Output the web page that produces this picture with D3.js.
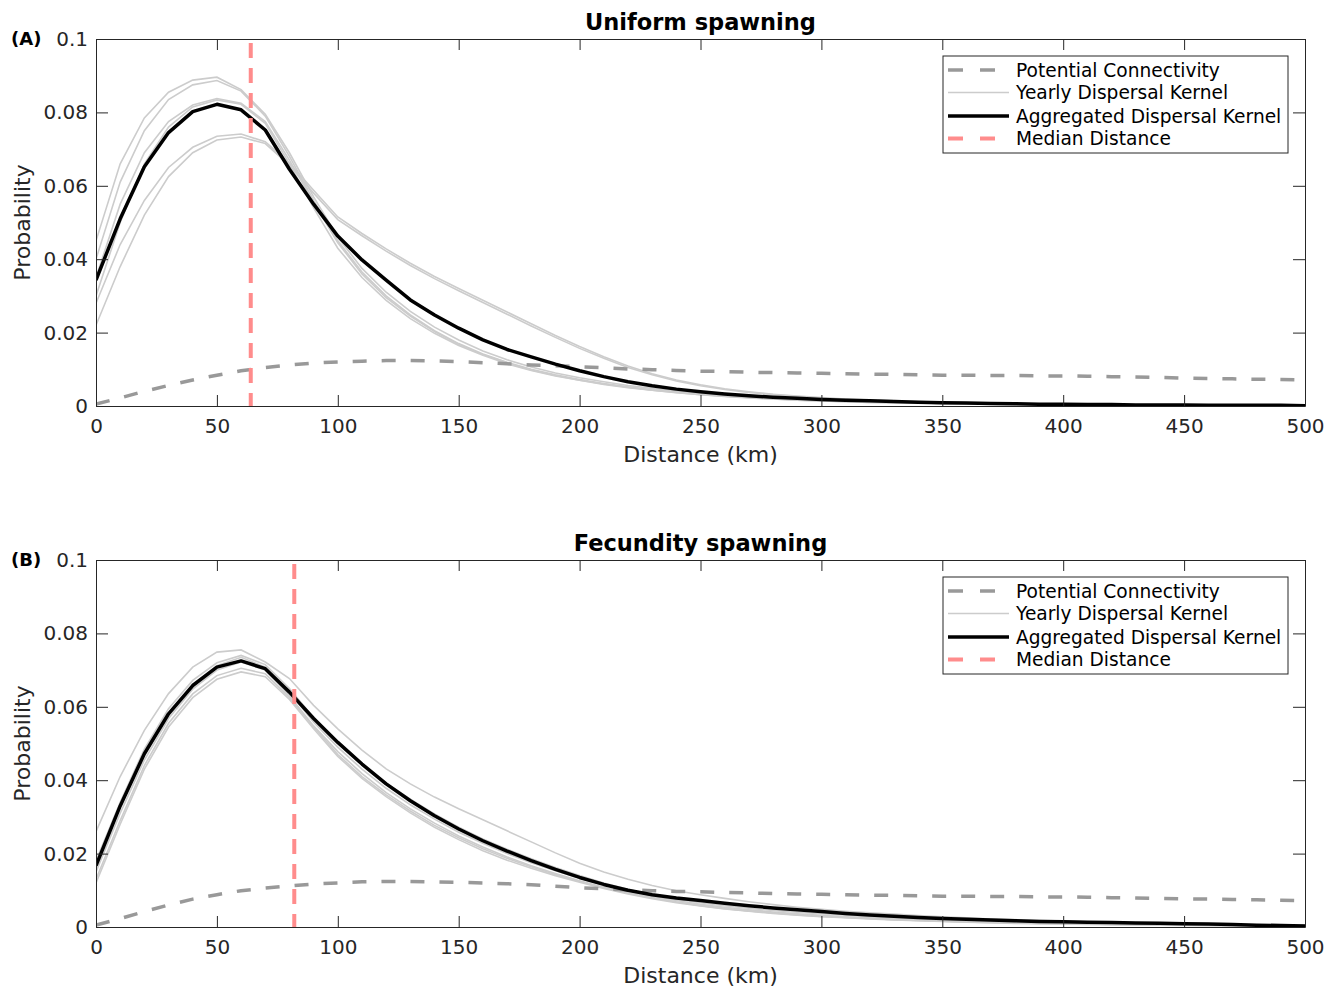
<html>
<head>
  <title>Dispersal kernels</title>
  <script src='https://d3js.org/d3.v7.min.js'></script>
</head>
<style type="text/css">
body { margin: 0; background: #fff; }
text { font-family: "DejaVu Sans", sans-serif; fill: #262626; }
.tick-label { font-size: 20px; }
.axis-label { font-size: 22px; }
.title { font-size: 22.5px; font-weight: bold; fill: #000; }
.panel-tag { font-size: 18px; font-weight: bold; fill: #000; }
.legend-text { font-size: 18.6px; fill: #000; }
</style>
<body>
<script>

// distances (km), sampled every 10 km
var distances = d3.range(0, 501, 10);

var xTicks = [0, 50, 100, 150, 200, 250, 300, 350, 400, 450, 500];
var yTicks = [0, 0.02, 0.04, 0.06, 0.08, 0.1];
var yTickLabels = ["0", "0.02", "0.04", "0.06", "0.08", "0.1"];

var legendLabels = ["Potential Connectivity", "Yearly Dispersal Kernel", "Aggregated Dispersal Kernel", "Median Distance"];

// ---- (A) uniform spawning ----
var uniformYearly = [
  [.045,.066,.0785,.0855,.0888,.0896,.0862,.0795,.0690,.0570,.0460,.0375,.0310,.0258,.0215,.0180,.0150,.0126,.0106,.0090,.0077,.0066,.0056,.0048,.0041,.0035,.0030,.0026,.0022,.0019,.0016,.0014,.0012,.0010,.0009,.0008,.0007,.0006,.0005,.0005,.0004,.0004,.0003,.0003,.0003,.0002,.0002,.0002,.0002,.0001,.0001],
  [.040,.061,.075,.0835,.0875,.0887,.0858,.0790,.0680,.0560,.0450,.0365,.0300,.0248,.0205,.0170,.0142,.0119,.0100,.0085,.0072,.0061,.0052,.0044,.0038,.0032,.0027,.0023,.0020,.0017,.0015,.0013,.0011,.0009,.0008,.0007,.0006,.0005,.0005,.0004,.0004,.0003,.0003,.0003,.0002,.0002,.0002,.0002,.0001,.0001,.0001],
  [.035,.055,.069,.0775,.0820,.0838,.0825,.0775,.0670,.0555,.0445,.0360,.0295,.0245,.0203,.0168,.0140,.0117,.0098,.0083,.0070,.0060,.0051,.0043,.0037,.0031,.0027,.0023,.0019,.0016,.0014,.0012,.0010,.0009,.0008,.0007,.0006,.0005,.0004,.0004,.0003,.0003,.0003,.0002,.0002,.0002,.0002,.0001,.0001,.0001,.0001],
  [.030,.050,.066,.0760,.0815,.0834,.0822,.0770,.0660,.0540,.0430,.0350,.0288,.0238,.0198,.0165,.0138,.0115,.0097,.0082,.0070,.0059,.0050,.0043,.0036,.0031,.0026,.0022,.0019,.0016,.0014,.0012,.0010,.0009,.0008,.0007,.0006,.0005,.0004,.0004,.0003,.0003,.0003,.0002,.0002,.0002,.0002,.0001,.0001,.0001,.0001],
  [.028,.044,.056,.0650,.0705,.0735,.0741,.0720,.0662,.0588,.0515,.0470,.0428,.0389,.0353,.0320,.0288,.0256,.0224,.0192,.0162,.0134,.0109,.0088,.0071,.0058,.0047,.0039,.0032,.0027,.0023,.0019,.0016,.0014,.0012,.0010,.0009,.0008,.0007,.0006,.0005,.0004,.0004,.0003,.0003,.0002,.0002,.0002,.0002,.0001,.0001],
  [.022,.038,.052,.0625,.0690,.0725,.0733,.0715,.0656,.0580,.0508,.0464,.0422,.0383,.0347,.0314,.0282,.0250,.0218,.0187,.0157,.0130,.0105,.0085,.0068,.0055,.0045,.0037,.0031,.0026,.0022,.0018,.0015,.0013,.0011,.0009,.0008,.0007,.0006,.0005,.0004,.0004,.0003,.0003,.0002,.0002,.0002,.0002,.0001,.0001,.0001]
];
var uniformAggregated = [.0343,.0510,.0652,.0745,.0802,.0822,.0807,.0752,.0645,.0550,.0463,.0398,.0343,.0289,.0248,.0212,.0180,.0154,.0134,.0114,.0096,.0080,.0066,.0055,.0046,.0039,.0033,.0028,.0024,.0021,.0018,.0016,.0014,.0012,.0010,.0009,.0008,.0007,.0006,.0005,.0005,.0004,.0004,.0003,.0003,.0003,.0002,.0002,.0002,.0002,.0001];
var uniformPotential = [.0005,.0022,.0040,.0056,.0071,.0084,.0096,.0105,.0112,.0117,.0120,.0122,.0124,.0124,.0123,.0121,.0118,.0115,.0112,.0110,.0107,.0104,.0101,.0099,.0097,.0095,.0094,.0092,.0091,.0090,.0089,.0088,.0087,.0086,.0085,.0084,.0084,.0083,.0083,.0082,.0082,.0081,.0080,.0079,.0078,.0076,.0075,.0074,.0073,.0072,.0071];
var uniformMedian = 64;

// ---- (B) fecundity spawning ----
var fecundityYearly = [
  [.026,.041,.0536,.0636,.0708,.0749,.0755,.0722,.0677,.0604,.0540,.0482,.0431,.0390,.0354,.0322,.0292,.0262,.0232,.0202,.0174,.0150,.0130,.0113,.0099,.0088,.0078,.0069,.0061,.0054,.0048,.0043,.0039,.0035,.0031,.0028,.0025,.0022,.0020,.0018,.0016,.0014,.0013,.0011,.0010,.0009,.0008,.0007,.0006,.0005,.0005],
  [.018,.034,.0485,.0595,.0672,.0720,.0740,.0715,.0650,.0570,.0505,.0445,.0392,.0348,.0308,.0272,.0240,.0212,.0186,.0162,.0140,.0120,.0103,.0088,.0076,.0066,.0058,.0051,.0045,.0040,.0036,.0032,.0028,.0025,.0022,.0020,.0018,.0016,.0014,.0013,.0012,.0011,.0010,.0009,.0008,.0007,.0006,.0005,.0005,.0004,.0004],
  [.017,.033,.0470,.0580,.0660,.0712,.0735,.0708,.0640,.0558,.0490,.0430,.0378,.0333,.0294,.0258,.0228,.0200,.0175,.0153,.0133,.0114,.0098,.0084,.0072,.0062,.0054,.0047,.0041,.0036,.0032,.0028,.0025,.0022,.0020,.0018,.0016,.0014,.0013,.0011,.0010,.0009,.0008,.0007,.0006,.0006,.0005,.0004,.0004,.0003,.0003],
  [.015,.031,.0455,.0568,.0648,.0700,.0722,.0700,.0630,.0548,.0478,.0418,.0366,.0322,.0283,.0248,.0218,.0191,.0167,.0146,.0126,.0108,.0093,.0080,.0068,.0059,.0051,.0044,.0039,.0034,.0030,.0026,.0023,.0020,.0018,.0016,.0014,.0013,.0011,.0010,.0009,.0008,.0007,.0006,.0006,.0005,.0004,.0004,.0003,.0003,.0003],
  [.013,.029,.0440,.0555,.0635,.0685,.0705,.0690,.0625,.0545,.0470,.0410,.0360,.0316,.0277,.0243,.0213,.0187,.0164,.0143,.0124,.0107,.0092,.0079,.0068,.0058,.0050,.0044,.0038,.0033,.0029,.0026,.0023,.0020,.0018,.0016,.0014,.0012,.0011,.0010,.0009,.0008,.0007,.0006,.0005,.0005,.0004,.0004,.0003,.0003,.0003],
  [.012,.028,.0430,.0545,.0625,.0675,.0695,.0682,.0620,.0540,.0465,.0405,.0355,.0311,.0272,.0238,.0208,.0182,.0160,.0140,.0122,.0105,.0090,.0077,.0066,.0057,.0049,.0043,.0037,.0032,.0028,.0025,.0022,.0019,.0017,.0015,.0013,.0012,.0010,.0009,.0008,.0007,.0006,.0006,.0005,.0004,.0004,.0003,.0003,.0003,.0002]
];
var fecundityAggregated = [.0167,.0330,.0472,.0581,.0658,.0708,.0725,.0704,.0640,.0568,.0503,.0444,.0390,.0344,.0303,.0267,.0235,.0207,.0181,.0157,.0135,.0116,.0100,.0088,.0079,.0072,.0065,.0058,.0052,.0047,.0042,.0037,.0033,.0029,.0026,.0023,.0021,.0019,.0017,.0015,.0014,.0013,.0012,.0011,.0010,.0009,.0008,.0007,.0005,.0004,.0003];
var fecundityPotential = [.0005,.0023,.0042,.0060,.0076,.0088,.0099,.0106,.0112,.0117,.0120,.0123,.0124,.0124,.0123,.0122,.0120,.0118,.0115,.0111,.0107,.0104,.0101,.0099,.0097,.0096,.0094,.0093,.0091,.0090,.0089,.0088,.0087,.0086,.0085,.0084,.0084,.0083,.0083,.0082,.0082,.0081,.0080,.0079,.0078,.0077,.0076,.0075,.0074,.0073,.0072];
var fecundityMedian = 82;

var width = 1325,
    height = 986,
    left = 96,
    right = 1305,
    plotH = 367,
    axisColor = "#262626",
    potentialColor = "#999999",
    yearlyColor = "#cccccc",
    medianColor = "#ff8c8c";

var svg = d3.select('body')
  .append('svg')
  .attr('width', width)
  .attr('height', height);

var x = d3.scaleLinear().domain([0, 500]).range([left, right]);

function drawPanel(top, title, tag, yearly, aggregated, potential, median, idx) {
  var y = d3.scaleLinear().domain([0, 0.1]).range([top + plotH, top]);
  var g = svg.append('g');

  g.append('clipPath').attr('id', 'clip' + idx)
    .append('rect')
    .attr('x', left).attr('y', top)
    .attr('width', right - left).attr('height', plotH);

  var line = d3.line()
    .x(function(d, i) { return x(distances[i]); })
    .y(function(d) { return y(d); });

  var plot = g.append('g').attr('clip-path', 'url(#clip' + idx + ')');

  plot.selectAll('.yearly')
    .data(yearly)
    .enter().append('path')
    .attr('class', 'yearly')
    .attr('d', line)
    .attr('fill', 'none')
    .attr('stroke', yearlyColor)
    .attr('stroke-width', 1.6);

  plot.append('path')
    .datum(potential)
    .attr('d', line)
    .attr('fill', 'none')
    .attr('stroke', potentialColor)
    .attr('stroke-width', 3.5)
    .attr('stroke-dasharray', '14,15');

  plot.append('path')
    .datum(aggregated)
    .attr('d', line)
    .attr('fill', 'none')
    .attr('stroke', '#000')
    .attr('stroke-width', 3.5)
    .attr('stroke-linejoin', 'round');

  plot.append('line')
    .attr('x1', x(median)).attr('x2', x(median))
    .attr('y1', top + 4).attr('y2', top + plotH)
    .attr('stroke', medianColor)
    .attr('stroke-width', 4)
    .attr('stroke-dasharray', '15,10');

  // axes box with inward ticks on all sides
  function styleAxis(a) {
    a.select('.domain').attr('stroke', axisColor);
    a.selectAll('.tick line').attr('stroke', axisColor);
    a.selectAll('.tick text').attr('class', 'tick-label').attr('fill', axisColor);
  }

  g.append('g')
    .attr('transform', 'translate(0,' + (top + plotH) + ')')
    .call(d3.axisBottom(x).tickValues(xTicks).tickSizeInner(-11).tickSizeOuter(0).tickPadding(13))
    .call(styleAxis);

  g.append('g')
    .attr('transform', 'translate(0,' + top + ')')
    .call(d3.axisTop(x).tickValues(xTicks).tickSizeInner(-11).tickSizeOuter(0).tickFormat(''))
    .call(styleAxis);

  g.append('g')
    .attr('transform', 'translate(' + left + ',0)')
    .call(d3.axisLeft(y).tickValues(yTicks).tickSizeInner(-12).tickSizeOuter(0).tickPadding(8)
      .tickFormat(function(d, i) { return yTickLabels[i]; }))
    .call(styleAxis);

  g.append('g')
    .attr('transform', 'translate(' + right + ',0)')
    .call(d3.axisRight(y).tickValues(yTicks).tickSizeInner(-12).tickSizeOuter(0).tickFormat(''))
    .call(styleAxis);

  // titles and labels
  g.append('text')
    .attr('class', 'title')
    .attr('x', (left + right) / 2)
    .attr('y', top - 9)
    .attr('text-anchor', 'middle')
    .text(title);

  g.append('text')
    .attr('class', 'panel-tag')
    .attr('x', 11)
    .attr('y', top + 6)
    .text(tag);

  g.append('text')
    .attr('class', 'axis-label')
    .attr('x', (left + right) / 2)
    .attr('y', top + plotH + 56)
    .attr('text-anchor', 'middle')
    .text('Distance (km)');

  g.append('text')
    .attr('class', 'axis-label')
    .attr('transform', 'translate(30,' + (top + plotH / 2) + ')rotate(-90)')
    .attr('text-anchor', 'middle')
    .text('Probability');

  // legend
  var lx = 943, ly = top + 17, lw = 345, lh = 97;
  var leg = g.append('g');
  leg.append('rect')
    .attr('x', lx).attr('y', ly)
    .attr('width', lw).attr('height', lh)
    .attr('fill', '#fff')
    .attr('stroke', axisColor)
    .attr('stroke-width', 1);

  var styles = [
    {color: potentialColor, w: 3.5, dash: '15,17'},
    {color: yearlyColor, w: 1.6, dash: null},
    {color: '#000', w: 3.5, dash: null},
    {color: medianColor, w: 4, dash: '15,17'}
  ];
  var rowY = [14, 36.5, 60, 82.5];

  legendLabels.forEach(function(label, i) {
    leg.append('line')
      .attr('x1', lx + 5).attr('x2', lx + 66)
      .attr('y1', ly + rowY[i]).attr('y2', ly + rowY[i])
      .attr('stroke', styles[i].color)
      .attr('stroke-width', styles[i].w)
      .attr('stroke-dasharray', styles[i].dash);
    leg.append('text')
      .attr('class', 'legend-text')
      .attr('x', lx + 73)
      .attr('y', ly + rowY[i])
      .attr('dy', '0.35em')
      .text(label);
  });
}

drawPanel(39, 'Uniform spawning', '(A)', uniformYearly, uniformAggregated, uniformPotential, uniformMedian, 0);
drawPanel(560, 'Fecundity spawning', '(B)', fecundityYearly, fecundityAggregated, fecundityPotential, fecundityMedian, 1);

</script>
</body>
</html>
